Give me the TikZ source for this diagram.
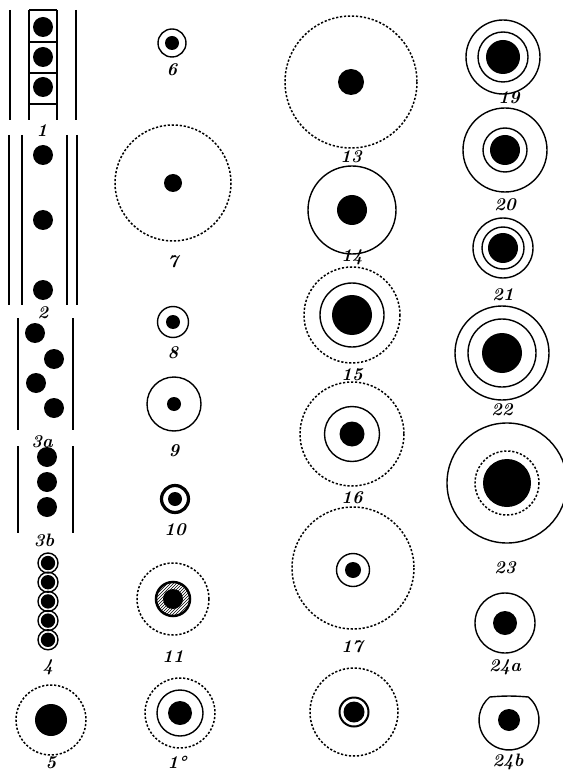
\documentclass[tikz,border=0pt]{standalone}
\usetikzlibrary{patterns}

\begin{document}
\begin{tikzpicture}[x=1pt,y=-1pt,
    wall/.style={line width=1.9pt},
    ring/.style={line width=1.4pt},
    dotring/.style={line width=1.5pt, dash pattern=on 2.2pt off 1.8pt},
    numlabel/.style={font=\bfseries\itshape\fontsize{18}{18}\selectfont, inner sep=0pt}]
    \useasboundingbox (0,0) rectangle (562,775);
    \draw [wall] (10,10) -- (10,120) (76,10) -- (76,120);
    \draw [ring] (29,10) -- (29,120) (57,10) -- (57,120);
    \foreach \y in {10,42,73,104}
        \draw [ring] (29,\y) -- (57,\y);
    \foreach \y in {27,57,87}
        \fill (43,\y) circle (10);
    \node [numlabel] (l1) at (42,131) {1};
    \draw [wall] (9,135) -- (9,305) (22,135) -- (22,305)
        (67,135) -- (67,305) (77,135) -- (77,305);
    \foreach \y in {155,220,290}
        \fill (43,\y) circle (10);
    \node [numlabel] (l2) at (43,313) {2};
    \draw [wall] (18,318) -- (18,430) (73,318) -- (73,430);
    \foreach \x/\y in {35/333,54/359,36/383,54/408}
        \fill (\x,\y) circle (10);
    \node [numlabel] (l3a) at (42,442) {3a};
    \draw [wall] (18,446) -- (18,533) (73,446) -- (73,533);
    \foreach \y in {457,482,507}
        \fill (47,\y) circle (10);
    \node [numlabel] (l3b) at (44,540) {3b};
    \foreach \y [evaluate=\y as \cy using 563+19.2*\y] in {0,...,4} {
        \draw [ring] (48,\cy) circle (10);
        \fill (48,\cy) circle (7.2);
    }
    \node [numlabel] (l4) at (48,667) {4};
    \draw [dotring] (51,720) circle (35);
    \fill (51,720) circle (16);
    \node [numlabel] (l5) at (51,763) {5};

    \draw [ring] (172,43) circle (14);
    \fill (172,43) circle (7);
    \node [numlabel] (l6) at (172,70) {6};
    \draw [dotring] (173,183) circle (58);
    \fill (173,183) circle (9);
    \node [numlabel] (l7) at (173,262) {7};
    \draw [ring] (173,322) circle (15.5);
    \fill (173,322) circle (7);
    \node [numlabel] (l8) at (173,353) {8};
    \draw [ring] (174,404) circle (27);
    \fill (174,404) circle (7);
    \node [numlabel] (l9) at (174,451) {9};
    \draw [line width=3.2pt] (175,499) circle (13.5);
    \fill (175,499) circle (7);
    \node [numlabel] (l10) at (175,530) {10};
    \draw [dotring] (173,599) circle (36);
    \fill [pattern=north east lines] (173,599) circle (16);
    \fill (173,599) circle (10);
    \draw [line width=2.5pt] (173,599) circle (17);
    \node [numlabel] (l11) at (173,657) {11};
    \draw [dotring] (180,713) circle (35);
    \draw [ring] (180,713) circle (23);
    \fill (180,713) circle (12);
    \node [numlabel] (l12) at (177,762) {1°};

    \draw [dotring] (351,82) circle (66);
    \fill (351,82) circle (13);
    \node [numlabel] (l13) at (351,157) {13};
    \draw [ring] (352,210) circle (44);
    \fill (352,210) circle (15);
    \node [numlabel] (l14) at (352,257) {14};
    \draw [dotring] (352,315) circle (48);
    \draw [ring] (352,315) circle (32);
    \fill (352,315) circle (20);
    \node [numlabel] (l15) at (352,375) {15};
    \draw [dotring] (352,434) circle (52);
    \draw [ring] (352,434) circle (27.5);
    \fill (352,434) circle (12.5);
    \node [numlabel] (l16) at (352,498) {16};
    \draw [dotring] (353,568) circle (61);
    \draw [ring] (353,570) circle (16.5);
    \fill (353,570) circle (8);
    \node [numlabel] (l17) at (352,647) {17};
    \draw [dotring] (354,712) circle (44);
    \draw [line width=2pt] (354,712) circle (14.5);
    \fill (354,712) circle (10.5);

    \draw [ring] (503,57) circle (37);
    \draw [ring] (503,57) circle (25);
    \fill (503,57) circle (17);
    \node [numlabel] (l19) at (509,98) {19};
    \draw [ring] (505,150) circle (42);
    \draw [ring] (505,150) circle (22);
    \fill (505,150) circle (15);
    \node [numlabel] (l20) at (505,205) {20};
    \draw [ring] (503,248) circle (30);
    \draw [ring] (503,248) circle (21);
    \fill (503,248) circle (15);
    \node [numlabel] (l21) at (503,295) {21};
    \draw [ring] (502,353) circle (47);
    \draw [ring] (502,353) circle (34);
    \fill (502,353) circle (20);
    \node [numlabel] (l22) at (502,410) {22};
    \draw [ring] (507,483) circle (60);
    \draw [dotring] (507,483) circle (32);
    \fill (507,483) circle (24);
    \node [numlabel] (l23) at (505,568) {23};
    \draw [ring] (505,623) circle (30);
    \fill (505,623) circle (12);
    \node [numlabel] (l24a) at (505,667) {24a};
    \draw [ring] (489.7,697) to [bend left=5] (528.3,697)
        arc [start angle=-50, end angle=230, radius=30] -- cycle;
    \fill (509,720) circle (11);
    \node [numlabel] (l24b) at (508,762) {24b};
\end{tikzpicture}
\end{document}
